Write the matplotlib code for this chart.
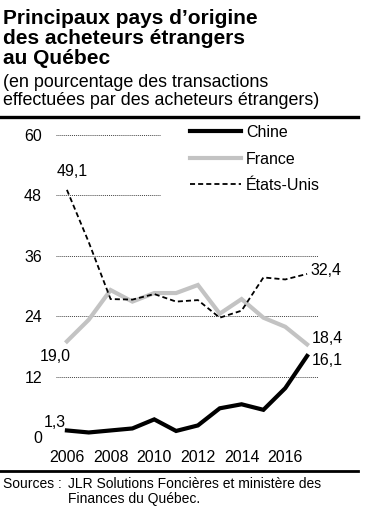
import matplotlib
matplotlib.use("Agg")
import matplotlib.pyplot as plt
from matplotlib.lines import Line2D

plt.rcParams['font.family'] = ['Liberation Sans', 'DejaVu Sans']

years = list(range(2006, 2018))
chine = [1.3, 0.9, 1.3, 1.7, 3.5, 1.2, 2.3, 5.7, 6.5, 5.4, 9.7, 16.1]
france = [19.0, 23.3, 29.2, 26.9, 28.6, 28.6, 30.2, 24.5, 27.4, 23.7, 21.9, 18.4]
usa = [49.1, 38.7, 27.4, 27.3, 28.4, 26.9, 27.2, 23.7, 25.1, 31.7, 31.3, 32.4]
series_names = ["Chine", "France", "États-Unis"]
yticks = [0, 12, 24, 36, 48, 60]
xticks = [2006, 2008, 2010, 2012, 2014, 2016]

title = "Principaux pays d\u2019origine\ndes acheteurs étrangers\nau Québec"
subtitle = "(en pourcentage des transactions\neffectuées par des acheteurs étrangers)"
source_lab = "Sources :"
source_txt = "JLR Solutions Foncières et ministère des\nFinances du Québec."

W, H = 366, 515
fig = plt.figure(figsize=(W / 100, H / 100), dpi=100)

def fx(px):
    return px / W

def fy(py):
    return 1 - py / H

ax = fig.add_axes([fx(56), fy(437), fx(318) - fx(56), fy(135) - fy(437)])
ax.set_xlim(2005.5, 2017.5)
ax.set_ylim(0, 60)
for s in ax.spines.values():
    s.set_visible(False)

grid_kw = dict(color="#444444", lw=0.7, linestyle=(0, (1, 1)), zorder=0)
for v in yticks:
    xmax = 0.397 if v >= 48 else 1.0
    ax.axhline(v, xmin=0, xmax=xmax, **grid_kw)

gray = "#c3c3c3"
l_fr, = ax.plot(years, france, color=gray, lw=3.0, solid_joinstyle="miter", clip_on=False, zorder=2)
l_us, = ax.plot(years, usa, color="black", lw=1.3, linestyle=(0, (2.8, 1.7)), clip_on=False, zorder=3)
l_ch, = ax.plot(years, chine, color="black", lw=3.0, solid_joinstyle="miter", clip_on=False, zorder=4)

ax.set_yticks(yticks)
ax.set_yticklabels([str(v) for v in yticks])
ax.set_xticks(xticks)
ax.set_xticklabels([str(v) for v in xticks])
ax.tick_params(axis="both", length=0, labelsize=11.5, colors="black")
ax.tick_params(axis="y", pad=10)
ax.tick_params(axis="x", pad=9)

def fmt(v):
    return f"{v:.1f}".replace(".", ",")

fs = 11.5
ax.annotate(fmt(usa[0]), (years[0], usa[0]), xytext=(3.6, 13), textcoords="offset points",
            ha="center", va="center", fontsize=fs)
ax.annotate(fmt(france[0]), (years[0], france[0]), xytext=(-8.5, -11), textcoords="offset points",
            ha="center", va="center", fontsize=fs)
ax.annotate(fmt(chine[0]), (years[0], chine[0]), xytext=(-9, 5.5), textcoords="offset points",
            ha="center", va="center", fontsize=fs)
ax.annotate(fmt(usa[-1]), (years[-1], usa[-1]), xytext=(2.2, 2.2), textcoords="offset points",
            ha="left", va="center", fontsize=fs)
ax.annotate(fmt(france[-1]), (years[-1], france[-1]), xytext=(3.6, 4.3), textcoords="offset points",
            ha="left", va="center", fontsize=fs)
ax.annotate(fmt(chine[-1]), (years[-1], chine[-1]), xytext=(3.6, -3.2), textcoords="offset points",
            ha="left", va="center", fontsize=fs)

leg = ax.legend([l_ch, l_fr, l_us], series_names, loc="upper left",
                bbox_to_anchor=(fx(190), fy(125)), bbox_transform=fig.transFigure,
                frameon=False, fontsize=fs, handlelength=3.2, handletextpad=0.3,
                labelspacing=0.72, borderpad=0, borderaxespad=0)

# Title and subtitle
fig.text(fx(3), fy(64), title, ha="left", va="baseline", fontsize=15, fontweight="bold",
         linespacing=1.08)
fig.text(fx(3), fy(105), subtitle, ha="left", va="baseline", fontsize=12.9, linespacing=1.08)

# Rules
fig.add_artist(Line2D([0, fx(358)], [fy(117), fy(117)], color="black", lw=2.4, transform=fig.transFigure))
fig.add_artist(Line2D([0, fx(358)], [fy(471), fy(471)], color="black", lw=2.0, transform=fig.transFigure))

# Sources
fig.text(fx(3), fy(488), source_lab, ha="left", va="baseline", fontsize=10)
fig.text(fx(68), fy(503), source_txt, ha="left", va="baseline", fontsize=10, linespacing=1.08)

fig.savefig("out.png", dpi=100)
